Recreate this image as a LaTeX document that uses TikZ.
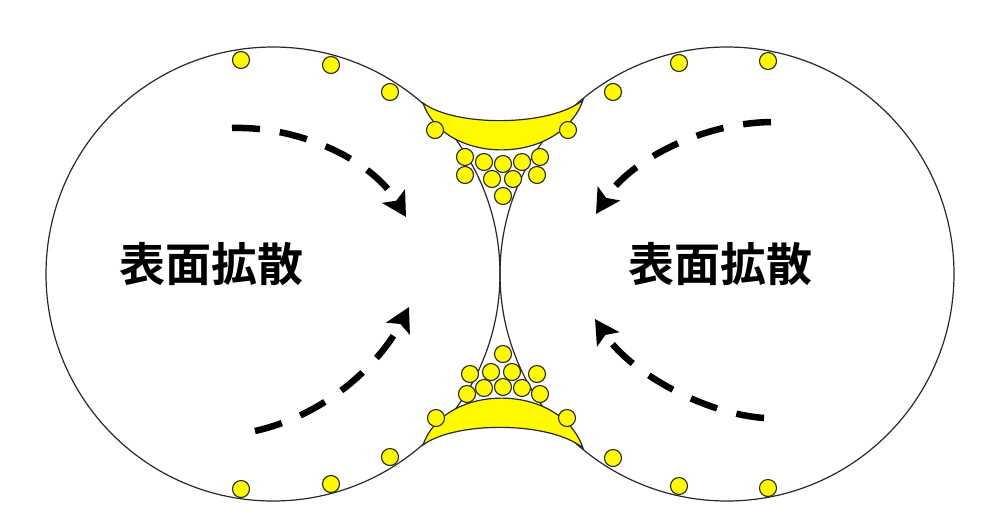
\documentclass[tikz,border=0pt]{standalone}
\usepackage{fontspec}
\newfontfamily\cjk[BoldFont={Noto Sans CJK JP Bold}]{Noto Sans CJK JP}
\usetikzlibrary{arrows.meta}
\definecolor{grainyellow}{RGB}{255,250,0}
\definecolor{outline}{RGB}{40,40,40}
\tikzset{
  grain/.style={circle,draw=outline,fill=grainyellow,line width=1.1pt,inner sep=0pt,minimum size=17pt},
  sphere/.style={circle,draw=outline,line width=1.2pt,inner sep=0pt,minimum size=454pt},
  neck/.style={draw=outline,fill=grainyellow,line width=1.2pt},
  flow/.style={line width=6.5pt,dash pattern=on 28pt off 20pt,
    -{Stealth[length=24pt,width=26pt,inset=5pt]}},
  label/.style={font=\cjk\bfseries\fontsize{46pt}{50pt}\selectfont,inner sep=0pt}
}
\begin{document}
\begin{tikzpicture}[x=1pt,y=-1pt]
\useasboundingbox[fill=white] (0,0) rectangle (994,531);

% the two spheres in contact
\node[sphere] (left) at (273,274) {};
\node[sphere] (right) at (727,274) {};

% material filling the upper and lower necks
\coordinate (ua) at (423,103);
\coordinate (ub) at (583,100);
\coordinate (la) at (423,445);
\coordinate (lb) at (583,448);
\path[neck] (ua) .. controls (455,127) and (550,127) .. (ub)
  .. controls (560,166) and (445,166) .. cycle;
\path[neck] (la) .. controls (455,421) and (550,421) .. (lb)
  .. controls (560,382) and (445,382) .. cycle;

% surface atoms, upper side
\foreach \n/\x/\y in {t1/241/60, t2/331/65, t3/390/92, t4/435/130,
    t5/568/130, t6/613/92, t7/679/63, t8/768/61,
    c1/465/157, c2/484/162, c3/503/164, c4/522/162, c5/540/157,
    c6/465/175, c7/492/179, c8/513/179, c9/537/175, c10/503/196}
  \node[grain] (\n) at (\x,\y) {};
% surface atoms, lower side
\foreach \n/\x/\y in {b1/241/489, b2/331/484, b3/390/457, b4/436/418,
    b5/567/418, b6/613/458, b7/679/486, b8/768/488,
    d1/503/354, d2/470/374, d3/491/372, d4/512/372, d5/537/374,
    d6/467/394, d7/484/388, d8/503/387, d9/522/388, d10/540/394}
  \node[grain] (\n) at (\x,\y) {};

% diffusion paths toward the neck
\coordinate (ul0) at (232,128);  \coordinate (ul1) at (406,217);
\coordinate (ll0) at (255,431);  \coordinate (ll1) at (409,307);
\coordinate (ur0) at (771,122);  \coordinate (ur1) at (596,214);
\coordinate (lr0) at (764,418);  \coordinate (lr1) at (595,319);
\draw[flow] (ul0) .. controls (300,126) and (372,160) .. (ul1);
\draw[flow] (ll0) .. controls (330,414) and (382,360) .. (ll1);
\draw[flow] (ur0) .. controls (702,123) and (630,160) .. (ur1);
\draw[flow] (lr0) .. controls (700,413) and (628,370) .. (lr1);

% labels
\node[label] (tl) at (211,264) {表面拡散};
\node[label] (tr) at (720,264) {表面拡散};
\end{tikzpicture}
\end{document}
